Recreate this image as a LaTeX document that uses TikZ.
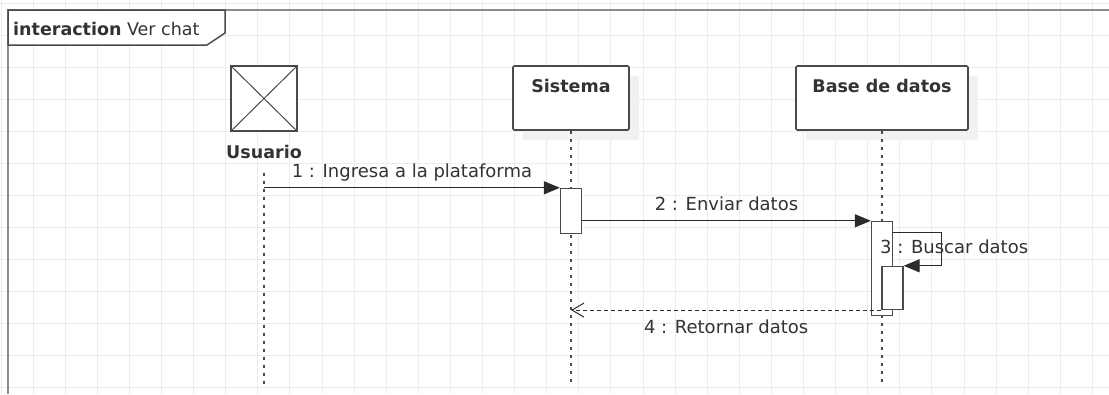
\documentclass[tikz,border=0pt]{standalone}
\usepackage{fontspec}
\setmainfont{DejaVu Sans}
\usepackage{xcolor}
\usetikzlibrary{arrows.meta,positioning,shadows}
\definecolor{gridgray}{HTML}{ECECEC}
\definecolor{framegray}{HTML}{8C8C8C}
\definecolor{boxgray}{HTML}{4A4A4A}
\definecolor{msggray}{HTML}{2B2B2B}
\definecolor{textgray}{HTML}{333333}
\definecolor{shadowgray}{HTML}{F1F1F1}

\begin{document}
\begin{tikzpicture}[x=1pt, y=-1pt,
  gridline/.style={gridgray, line width=1pt},
  headbox/.style={rectangle, draw=boxgray, line width=1.6pt, rounded corners=1.2pt, fill=white, minimum height=64pt, inner sep=0pt, drop shadow={shadow xshift=10pt, shadow yshift=-10pt, fill=shadowgray, opacity=1}},
  headtext/.style={font=\fontsize{17.5}{20}\selectfont\bfseries, text=textgray},
  actor/.style={rectangle, draw=boxgray, line width=2pt, fill=white, minimum width=66pt, minimum height=65pt, inner sep=0pt,
    path picture={\draw[boxgray, line width=1pt] (path picture bounding box.north west) -- (path picture bounding box.south east) (path picture bounding box.north east) -- (path picture bounding box.south west);}},
  act/.style={rectangle, draw=boxgray, line width=1.3pt, fill=white, minimum width=21pt, inner sep=0pt},
  lifeline/.style={boxgray, line width=1.5pt, dash pattern=on 3pt off 5pt},
  msg/.style={-{Triangle[length=16pt,width=13pt]}, msggray, line width=1.3pt},
  ret/.style={-{Straight Barb[length=12pt,width=14pt]}, msggray, line width=1pt, dash pattern=on 4pt off 3pt},
  lbl/.style={font=\fontsize{18}{21}\selectfont, text=textgray, inner sep=0pt, text height=13.5pt, text depth=4pt}
]
\fill[white] (0,0) rectangle (1109,394);
\useasboundingbox (0,0) rectangle (1109,394);
\foreach \gx in {0,...,34} \draw[gridline] (1+32.1*\gx,0) -- (1+32.1*\gx,394);
\foreach \gy in {0,...,12} \draw[gridline] (0,3+32*\gy) -- (1109,3+32*\gy);

\draw[framegray, line width=2.5pt] (8,394) -- (8,10) -- (1109,10);
\draw[boxgray, line width=1.5pt, fill=white] (8,10) -- (225,10) -- (225,33) -- (207,45) -- (8,45) -- cycle;
\node[anchor=base west, font=\fontsize{17.5}{20}\selectfont, text=textgray, inner sep=0pt] (tabtext) at (13,35) {\textbf{interaction} Ver chat};

\coordinate (bottom) at (0,385);

\node[actor] (usr) at (264,98.5) {};
\node[headtext, below=13pt of usr, inner sep=0pt, text height=12.8pt, text depth=0pt] (usrname) {Usuario};
\node[headbox, minimum width=116pt, label={[headtext, anchor=base, yshift=-27pt]north:Sistema}] (sys) at (571,98) {};
\node[headbox, minimum width=172pt, label={[headtext, anchor=base, yshift=-27pt]north:Base de datos}] (db) at (882,98) {};

\draw[lifeline] ([yshift=-15pt]usrname.south) -- (usrname.south |- bottom);
\draw[lifeline] (sys.south) -- (sys.south |- bottom);
\draw[lifeline] (db.south) -- (db.south |- bottom);

\node[act, minimum height=45pt, below=57pt of sys.south] (sysact) {};
\node[act, minimum height=94pt, below=90pt of db.south] (dbact) {};
\node[act, minimum height=43pt, anchor=north] (dbself) at ([xshift=10.5pt, yshift=-45pt]dbact.north) {};

\draw[msg] (usrname.south |- sysact.north) -- (sysact.north west) node[lbl, midway, above=6pt] (m1) {1 : Ingresa a la plataforma};
\draw[msg] (sysact.east |- dbact.north) -- (dbact.north west) node[lbl, midway, above=6pt] (m2) {2 : Enviar datos};
\draw[msg] ([yshift=-12pt]dbact.north east) -- ++(48,0) |- (dbself.north east);
\node[lbl, anchor=base west] (m3) at (880,253) {3 : Buscar datos};
\draw[ret] (dbself.south west) -- (sysact.south |- dbself.south) node[lbl, midway, below=9pt] (m4) {4 : Retornar datos};
\end{tikzpicture}
\end{document}
